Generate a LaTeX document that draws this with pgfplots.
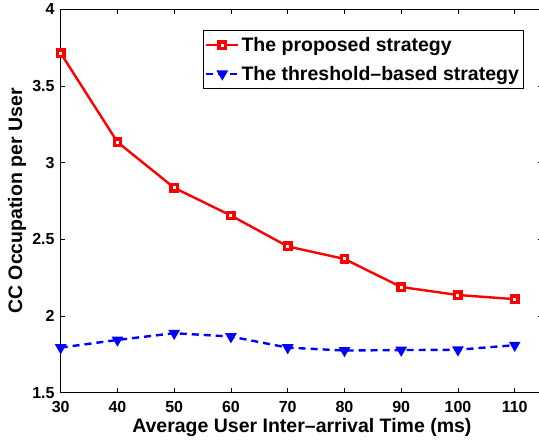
\documentclass[border=0pt]{standalone}
\usepackage{fontspec}
\setmainfont{Liberation Sans}
\usepackage{pgfplots}
\pgfplotsset{compat=1.18}
\begin{document}
\begin{tikzpicture}
\begin{axis}[
  at={(0pt,0pt)}, anchor=south west,
  scale only axis,
  width=482.4pt, height=383.4pt,
  xmin=30, xmax=115, ymin=1.5, ymax=4,
  xtick={30,40,50,60,70,80,90,100,110},
  ytick={1.5,2,2.5,3,3.5,4},
  yticklabels={1.5,2,2.5,3,3.5,4},
  tick align=inside,
  major tick length=4.7pt,
  axis line style={line width=0.8pt},
  every tick/.style={black, line width=0.6pt},
  /pgf/number format/assume math mode=true,
  tick label style={font=\fontsize{16}{19}\selectfont\bfseries},
  xticklabel style={anchor=base, inner sep=0pt, yshift=-20pt},
  yticklabel style={anchor=east, inner sep=0pt, xshift=-6pt},
  xlabel={Average User Inter--arrival Time (ms)},
  ylabel={CC Occupation per User},
  label style={font=\fontsize{19.5}{22}\selectfont\bfseries},
  xlabel style={at={(axis description cs:0.5,-0.1043)}, anchor=base, inner sep=0pt},
  ylabel style={at={(axis description cs:-0.0798,0.5)}, anchor=base, rotate=0, inner sep=0pt},
  legend style={at={(axis description cs:0.2944,0.946)}, anchor=north west,
    draw=black, line width=0.8pt, fill=white,
    inner xsep=2pt, inner ysep=5pt, row sep=9pt,
    font=\fontsize{19.5}{22}\selectfont\bfseries,
    cells={anchor=west}},
  legend cell align=left,
  legend image code/.code={\draw[mark repeat=2,mark phase=2] plot coordinates {(0pt,0pt) (16pt,0pt) (32pt,0pt)};},
]
\addplot[red, line width=2.4pt, mark=square*, mark size=3.2pt,
  mark options={solid, fill=white, draw=red, line width=3.4pt}]
  coordinates {(30,3.714) (40,3.134) (50,2.836) (60,2.655) (70,2.454) (80,2.372) (90,2.189) (100,2.137) (110,2.110)};
\addlegendentry{The proposed strategy}
\addplot[blue, line width=2.4pt, dash pattern=on 7pt off 5pt, mark=triangle*, mark size=3.6pt,
  mark options={solid, rotate=180, fill=white, draw=blue, line width=3.2pt}]
  coordinates {(30,1.794) (40,1.844) (50,1.888) (60,1.866) (70,1.794) (80,1.775) (90,1.778) (100,1.780) (110,1.810)};
\addlegendentry{The threshold--based strategy}
\end{axis}
\pgfresetboundingbox
\path (-60.7pt,-47.3pt) rectangle (478.3pt,392.7pt);
\end{tikzpicture}
\end{document}
